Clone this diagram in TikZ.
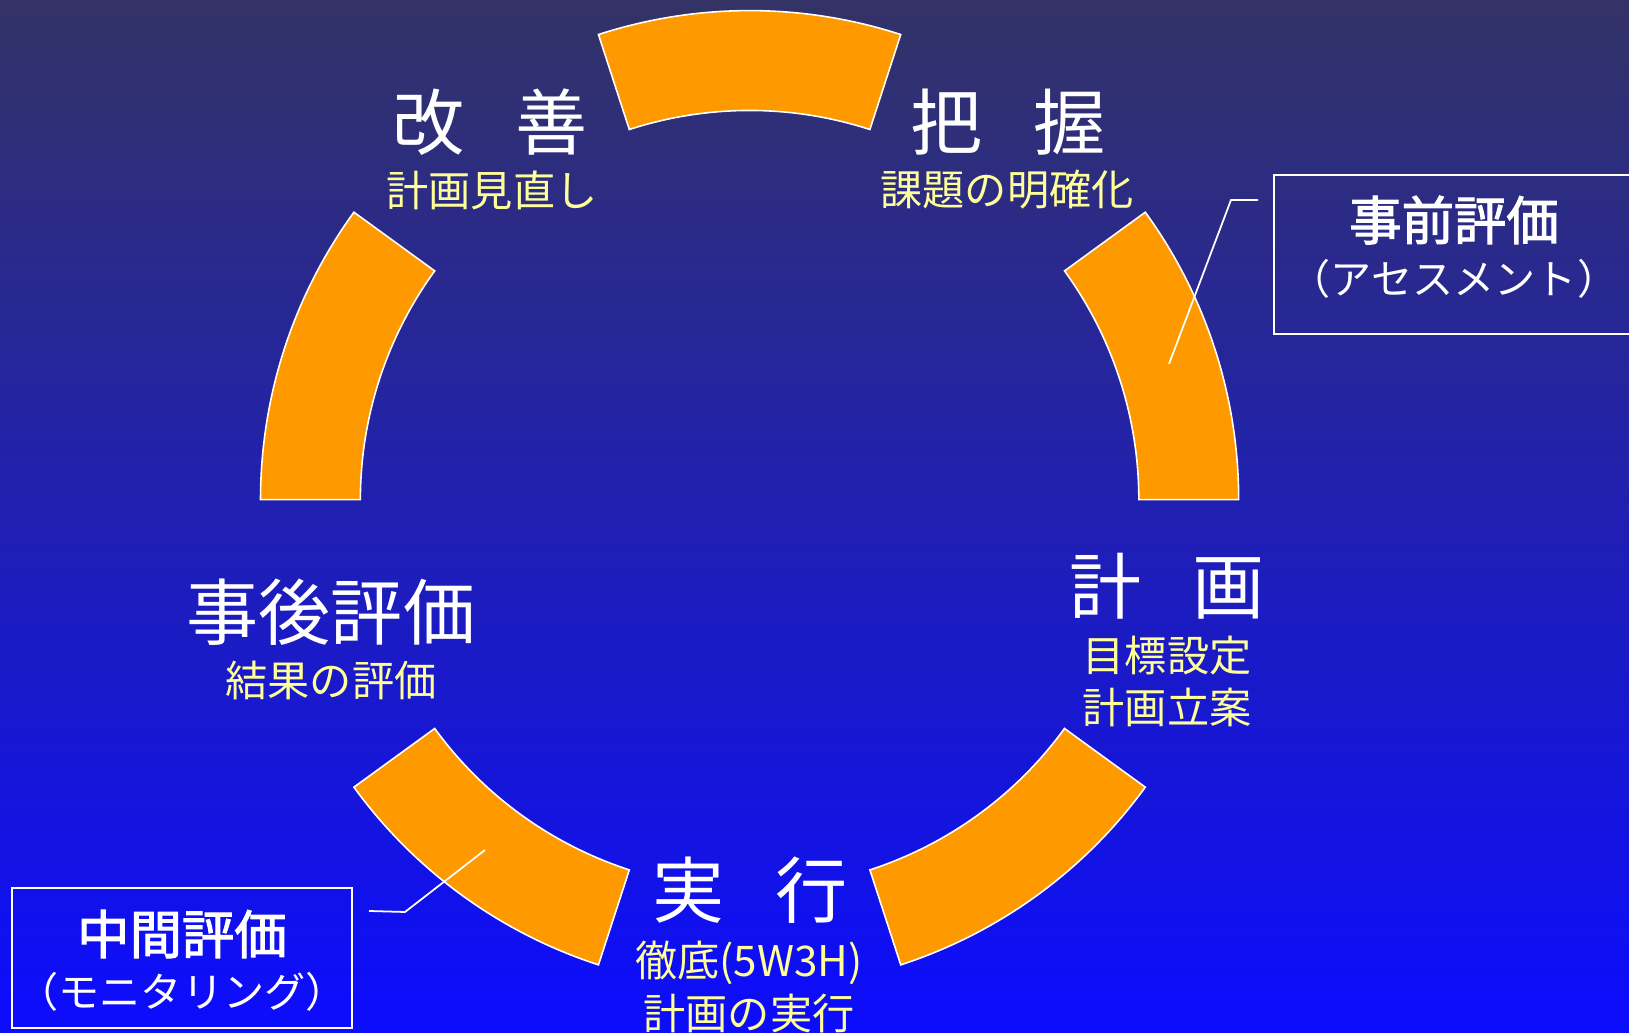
\documentclass[tikz,border=0pt]{standalone}
\usepackage{fontspec}
\setmainfont{Noto Sans CJK JP}[AutoFakeBold=2]
\definecolor{bgtop}{RGB}{51,51,102}
\definecolor{bgmid}{RGB}{34,34,200}
\definecolor{bgbot}{RGB}{12,12,255}
\definecolor{segorange}{RGB}{255,153,0}
\definecolor{subyellow}{RGB}{255,255,153}
\tikzset{
  seg/.style={fill=segorange, draw=white, line width=0.45pt},
  title/.style={text=white, font=\fontsize{20.5}{24}\selectfont},
  sub/.style={text=subyellow, align=center, font=\fontsize{12}{14.8}\selectfont},
  evalbox/.style={draw=white, line width=0.6pt},
  evalhead/.style={text=white, font=\fontsize{14.9}{18}\selectfont\bfseries},
  evalsub/.style={text=white, font=\fontsize{11.7}{14}\selectfont},
  callout/.style={draw=white, line width=0.5pt}
}
\begin{document}
\begin{tikzpicture}[x=0.01cm,y=0.01cm]

	\def\cx{749.6}
	\def\cy{533.3}
	\def\ro{4.888cm}
	\def\ri{3.89cm}

	\shade[top color=bgtop, middle color=bgmid, bottom color=bgbot] (0,0) rectangle (1629,1033);
	\useasboundingbox (0,0) rectangle (1629,1033);

	% ring of five segments
	\begin{scope}[shift={(\cx,\cy)}]
		\foreach \a in {0,72,144,216,288}
			\draw[seg] (\a:\ro) arc (\a:\a+36:\ro) -- (\a+36:\ri) arc (\a+36:\a:\ri) -- cycle;
	\end{scope}

	\node[title] (kaizen) at (490,911) {改\hspace{0.7em}善};
	\node[sub] (kaizensub) at (492,843) {計画見直し};

	\node[title] (haaku) at (1008,911) {把\hspace{0.7em}握};
	\node[sub] (haakusub) at (1007,843) {課題の明確化};

	\node[title] (keikaku) at (1167,447) {計\hspace{0.7em}画};
	\node[sub] (keikakusub) at (1167,352) {目標設定\\計画立案};

	\node[title] (jikkou) at (750,143) {実\hspace{0.7em}行};
	\node[sub] (jikkousub) at (749,46) {徹底(5W3H)\\計画の実行};

	\node[title] (jigo) at (331,421) {事後評価};
	\node[sub] (jigosub) at (331,352) {結果の評価};

	% assessment box
	\draw[evalbox] (1274,858) rectangle (1645,699);
	\node[evalhead] (jizen) at (1454,813) {事前評価};
	\node[evalsub] (jizensub) at (1454,754) {（アセスメント）};
	\coordinate (jizenstart) at (1258,833);
	\coordinate (jizenend) at (1169,669);
	\draw[callout] (jizenstart) -- ++(-27,0) -- (jizenend);

	% monitoring box
	\node[evalbox, minimum width=3.4cm, minimum height=1.4cm] (chukanbox) at (182,75) {};
	\node[evalhead] (chukan) at (182,99) {中間評価};
	\node[evalsub] (chukansub) at (182,41) {（モニタリング）};
	\coordinate (chukanstart) at (369,122);
	\coordinate (chukanend) at (485,183);
	\draw[callout] (chukanstart) -- ++(36,-1) -- (chukanend);
\end{tikzpicture}
\end{document}
